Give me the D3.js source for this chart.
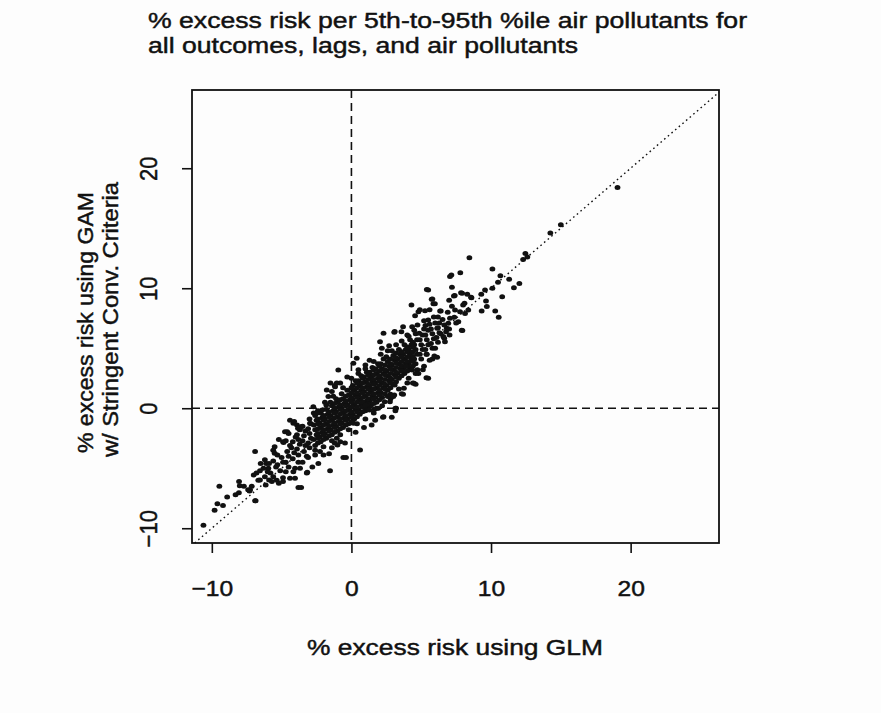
<!DOCTYPE html>
<html><head><meta charset="utf-8">
<script src="https://cdn.jsdelivr.net/npm/d3@7"></script>
<style>
body{margin:0;background:#fff}
svg{display:block}
text{font-family:"Liberation Sans",Arial,Helvetica,sans-serif;fill:#111;stroke:#111;stroke-width:0.45px}
</style>
</head><body>
<svg id="c" width="881" height="713"></svg>
<script>
// ---- DATA ([% excess risk GLM, % excess risk GAM stringent]) ----
const titleLines = ["% excess risk per 5th-to-95th %ile air pollutants for", "all outcomes, lags, and air pollutants"];
const xLabel = "% excess risk using GLM";
const yLabelLines = ["% excess risk using GAM", "w/ Stringent Conv. Criteria"];
const xTicks = [-10, 0, 10, 20];
const yTicks = [-10, 0, 10, 20];

const coreBand = [
[-4.7,-4.5],[-4.5,-4.0],[-4.6,-3.6],[-4.4,-3.1],[-4.7,-2.7],
[-4.2,-4.2],[-4.1,-3.7],[-4.3,-3.3],[-4.2,-2.8],[-4.0,-2.4],
[-3.8,-3.9],[-3.9,-3.4],[-3.7,-3.0],[-3.8,-2.6],[-3.9,-2.2],[-3.7,-1.8],
[-3.4,-3.6],[-3.3,-3.1],[-3.5,-2.7],[-3.4,-2.3],[-3.3,-1.9],[-3.5,-1.5],
[-3.0,-3.3],[-3.1,-2.9],[-2.9,-2.5],[-3.0,-2.1],[-3.1,-1.7],[-2.9,-1.3],
[-2.6,-3.1],[-2.7,-2.6],[-2.5,-2.2],[-2.6,-1.8],[-2.7,-1.4],[-2.5,-1.0],[-2.6,-0.6],
[-2.2,-2.8],[-2.3,-2.4],[-2.1,-2.0],[-2.2,-1.6],[-2.3,-1.2],[-2.1,-0.8],[-2.2,-0.4],
[-1.8,-2.5],[-1.9,-2.1],[-1.7,-1.7],[-1.8,-1.3],[-1.9,-0.9],[-1.7,-0.5],[-1.8,-0.1],
[-1.4,-2.2],[-1.5,-1.8],[-1.3,-1.4],[-1.4,-1.0],[-1.5,-0.6],[-1.3,-0.2],[-1.4,0.2],[-1.5,0.5],
[-1.0,-1.9],[-1.1,-1.5],[-0.9,-1.1],[-1.0,-0.7],[-1.1,-0.3],[-0.9,0.1],[-1.0,0.5],[-1.1,0.8],
[-0.6,-1.6],[-0.7,-1.2],[-0.5,-0.8],[-0.6,-0.4],[-0.7,0.0],[-0.5,0.4],[-0.6,0.8],[-0.7,1.2],
[-0.2,-1.3],[-0.3,-0.9],[-0.1,-0.5],[-0.2,-0.1],[-0.3,0.3],[-0.1,0.7],[-0.2,1.1],[-0.3,1.5],
[0.2,-0.9],[0.1,-0.5],[0.3,-0.1],[0.2,0.3],[0.1,0.7],[0.3,1.1],[0.2,1.5],[0.1,1.9],[0.3,2.3],
[0.6,-0.5],[0.5,-0.1],[0.7,0.3],[0.6,0.7],[0.5,1.1],[0.7,1.5],[0.6,1.9],[0.5,2.3],[0.7,2.7],
[1.0,-0.2],[0.9,0.2],[1.1,0.6],[1.0,1.0],[0.9,1.4],[1.1,1.8],[1.0,2.2],[0.9,2.6],[1.1,3.0],
[1.4,0.2],[1.3,0.6],[1.5,1.0],[1.4,1.4],[1.3,1.8],[1.5,2.2],[1.4,2.6],[1.3,3.0],[1.5,3.4],
[1.8,0.5],[1.7,0.9],[1.9,1.3],[1.8,1.7],[1.7,2.1],[1.9,2.5],[1.8,2.9],[1.7,3.3],[1.9,3.7],
[2.2,0.9],[2.1,1.3],[2.3,1.7],[2.2,2.1],[2.1,2.5],[2.3,2.9],[2.2,3.3],[2.1,3.7],[2.3,4.1],
[2.6,1.5],[2.5,1.9],[2.7,2.3],[2.6,2.7],[2.5,3.1],[2.7,3.5],[2.6,3.9],[2.5,4.3],
[3.0,2.0],[2.9,2.4],[3.1,2.8],[3.0,3.2],[2.9,3.6],[3.1,4.0],[3.0,4.4],[2.9,4.8],
[3.4,2.5],[3.3,2.9],[3.5,3.3],[3.4,3.7],[3.3,4.1],[3.5,4.5],[3.4,4.9],
[3.8,2.9],[3.7,3.3],[3.9,3.7],[3.8,4.1],[3.7,4.5],[3.9,4.9],[3.8,5.3],
[4.2,3.3],[4.1,3.7],[4.3,4.1],[4.2,4.5],[4.1,4.9],[4.3,5.3],[4.2,5.7],
[4.6,3.7],[4.5,4.1],[4.7,4.5],[4.6,4.9],[4.5,5.3],[4.7,5.7],
[5.0,4.1],[4.9,4.5],[5.1,4.9],[5.0,5.3],[4.9,5.7],[5.1,6.1],
[5.4,4.5],[5.3,4.9],[5.5,5.3],[5.4,5.7],[5.3,6.1],[5.5,6.5],
[5.8,5.0],[5.7,5.4],[5.9,5.8],[5.8,6.2],[5.7,6.6],
[6.2,5.5],[6.1,5.9],[6.3,6.3],[6.2,6.7]
];

const coreFill = [
[-2.4,-2.9],[-2.4,-2.5],[-2.4,-2.1],[-2.4,-1.7],[-2.4,-1.3],[-2.4,-0.9],
[-2.0,-2.6],[-2.0,-2.2],[-2.0,-1.8],[-2.0,-1.4],[-2.0,-1.0],[-2.0,-0.6],
[-1.6,-2.3],[-1.6,-1.9],[-1.6,-1.5],[-1.6,-1.1],[-1.6,-0.7],[-1.6,-0.3],
[-1.2,-2.0],[-1.2,-1.6],[-1.2,-1.2],[-1.2,-0.8],[-1.2,-0.4],[-1.2,0.0],[-1.2,0.4],
[-0.8,-1.7],[-0.8,-1.3],[-0.8,-0.9],[-0.8,-0.5],[-0.8,-0.1],[-0.8,0.3],[-0.8,0.7],
[-0.4,-1.4],[-0.4,-1.0],[-0.4,-0.6],[-0.4,-0.2],[-0.4,0.2],[-0.4,0.6],[-0.4,1.0],
[0.0,-1.1],[0.0,-0.7],[0.0,-0.3],[0.0,0.1],[0.0,0.5],[0.0,0.9],[0.0,1.3],[0.0,1.7],
[0.4,-0.7],[0.4,-0.3],[0.4,0.1],[0.4,0.5],[0.4,0.9],[0.4,1.3],[0.4,1.7],[0.4,2.1],
[0.8,-0.3],[0.8,0.1],[0.8,0.5],[0.8,0.9],[0.8,1.3],[0.8,1.7],[0.8,2.1],[0.8,2.5],
[1.2,0.0],[1.2,0.4],[1.2,0.8],[1.2,1.2],[1.2,1.6],[1.2,2.0],[1.2,2.4],[1.2,2.8],
[1.6,0.4],[1.6,0.8],[1.6,1.2],[1.6,1.6],[1.6,2.0],[1.6,2.4],[1.6,2.8],[1.6,3.2],
[2.0,0.7],[2.0,1.1],[2.0,1.5],[2.0,1.9],[2.0,2.3],[2.0,2.7],[2.0,3.1],[2.0,3.5],
[2.4,1.2],[2.4,1.6],[2.4,2.0],[2.4,2.4],[2.4,2.8],[2.4,3.2],[2.4,3.6],
[2.8,1.7],[2.8,2.1],[2.8,2.5],[2.8,2.9],[2.8,3.3],[2.8,3.7],[2.8,4.1],
[3.2,2.2],[3.2,2.6],[3.2,3.0],[3.2,3.4],[3.2,3.8],[3.2,4.2],[3.2,4.6],
[3.6,2.7],[3.6,3.1],[3.6,3.5],[3.6,3.9],[3.6,4.3],[3.6,4.7],
[4.0,3.1],[4.0,3.5],[4.0,3.9],[4.0,4.3],[4.0,4.7],[4.0,5.1],
[4.4,3.5],[4.4,3.9],[4.4,4.3],[4.4,4.7],[4.4,5.1],[4.4,5.5]
];

const bandEdge = [
[-3.0,-0.9],[-2.4,-0.2],[-1.9,0.5],[-1.3,1.0],[-0.6,1.7],[0.0,2.5],[0.5,2.9],[1.0,3.3],
[1.6,3.9],[2.1,4.5],[2.6,4.8],[3.2,5.3],[3.6,5.6],[4.1,6.0],[4.6,6.2],[5.2,6.6],[5.6,7.0],[6.3,7.1],
[-3.8,-4.5],[-3.2,-4.0],[-2.6,-3.5],[-2.0,-3.2],[-1.4,-2.7],[-0.8,-2.2],[-0.2,-1.8],[0.4,-1.3],
[1.0,-0.9],[1.6,-0.4],[2.2,0.2],[2.8,0.8],[3.4,1.6],[4.0,2.1],[4.6,2.9],[5.2,3.5],[5.8,4.1]
];

const fringe = [
[-6.9,-3.6],[-5.6,-3.5],[-5.5,-3.75],[-6.2,-4.3],[-6.1,-4.6],[-5.95,-5.0],[-4.9,-2.8],[-4.6,-1.95],
[-4.16,-1.25],[-3.56,-1.53],[-4.1,-1.1],[-4.4,-1.0],[-3.9,-1.4],[-3.7,-1.75],[-4.76,-1.95],[-4.5,-2.1],
[-5.2,-2.6],[-5.5,-3.2],[-4.86,-2.86],[-3.83,-1.67],[-2.97,-1.25],[-2.7,-0.4],[-2.3,-0.28],[-2.73,0.13],
[-2.1,-0.14],[-2.5,-0.42],[-1.8,0.28],[-1.77,1.53],[-1.65,0.97],[-1.17,1.8],[-0.8,2.1],[-1.5,2.1],
[-1.2,1.9],[-1.05,2.1],[-1.4,1.4],[-0.94,3.19],[0.38,4.17],[0.14,3.75],[-0.3,2.6],[0.5,3.2],
[1.0,3.6],[1.3,4.0],[2.05,5.55],[2.3,6.25],[2.18,5.0],[3.1,6.4],[3.7,6.8],[3.07,6.33],
[2.7,5.2],[3.58,6.38],[4.35,6.8],[4.73,6.94],[4.86,6.25],[4.3,8.6],[4.8,8.05],[5.6,8.2],
[5.5,9.86],[5.75,9.08],[5.87,8.7],[4.9,8.2],[5.27,8.13],[4.56,7.7],[5.5,7.36],[5.2,7.3],
[4.0,6.1],[4.5,6.5],[5.9,7.6],[6.35,8.1],[6.0,7.1],[5.3,6.9],
[-6.9,-7.7],[-6.55,-5.97],[-5.8,-5.4],[-5.6,-5.7],[-5.35,-6.0],[-5.2,-6.25],[-4.9,-5.8],[-4.9,-6.1],
[-6.14,-6.4],[-4.16,-5.3],[-4.04,-5.0],[-3.68,-5.0],[-4.04,-5.83],[-4.4,-5.83],[-3.8,-6.6],[-3.6,-6.6],
[-3.2,-5.4],[-3.16,-5.33],[-2.37,-4.6],[-2.8,-4.9],[-1.53,-5.2],[-0.58,-4.1],[-0.39,-4.1],[-2.25,-3.6],
[-1.4,-3.3],[-0.8,-2.8],[-1.05,-2.5],[-0.46,-2.9],[-1.0,-3.06],[0.62,-3.47],[1.45,-1.4],[0.14,-1.25],
[2.26,-0.75],[2.89,-0.75],[1.92,0.0],[1.66,-0.08],[1.02,0.28],[3.15,0.0],[3.15,-0.2],[2.38,0.55],
[2.76,0.55],[2.8,1.16],[3.07,1.1],[3.6,1.2],[2.9,1.0],[3.1,1.94],[3.7,1.16],[3.76,1.67],
[4.48,2.08],[4.6,2.0],[4.4,2.1],[5.37,2.55],[5.5,2.5],[4.1,2.5],[4.73,3.2],[5.12,3.2],
[4.8,2.9],[3.9,3.47],[4.35,3.19],[5.6,4.0],[5.94,4.36],[6.14,4.25],[5.37,4.5],[2.3,-0.7],
[1.8,0.0],[1.3,-0.14],[2.6,0.97],[3.0,0.97],[3.2,0.0],[-3.1,-4.1],[-2.0,-3.9],[-1.6,-3.8],
[0.3,-2.0],[0.9,-1.6],[1.7,-1.0],[-4.5,-4.9],[-5.4,-4.9],[-3.5,-4.5],[-2.6,-3.9],[-1.2,-2.9]
];

const lowerTail = [
[-10.6,-9.75],[-9.8,-8.5],[-9.6,-7.95],[-9.2,-8.1],[-9.46,-6.5],[-8.9,-7.4],[-8.3,-7.2],[-8.06,-7.05],
[-8.05,-6.1],[-8.0,-6.45],[-7.4,-6.8],[-7.14,-6.5],[-6.86,-7.7],[-7.3,-6.9],[-7.0,-5.56],[-6.8,-5.4],
[-6.67,-6.0],[-6.2,-5.7],[-5.9,-5.97],[-5.7,-6.1],[-7.7,-6.5],[-7.26,-6.8],[-6.55,-5.2],[-6.3,-5.0],
[-6.5,-4.6],[-5.9,-4.6],[-6.0,-5.3],[-5.6,-4.4],[-5.3,-4.7],[-5.0,-4.1],[-5.3,-3.9],[-5.1,-5.2],
[-4.9,-4.5],[-4.7,-5.3]
];

const upperTail = [
[6.65,5.83],[7.03,6.1],[6.78,6.38],[6.53,7.4],[6.65,6.94],[6.14,6.67],[6.58,5.97],[6.83,6.67],
[6.94,7.08],[7.06,7.5],[7.95,6.47],[7.66,7.2],[7.37,7.58],[8.37,8.19],[8.14,7.9],[7.78,8.05],
[7.42,8.19],[7.2,8.5],[6.4,8.1],[5.98,8.7],[5.8,9.1],[5.4,9.9],[7.2,10.08],[7.85,9.63],
[8.3,9.5],[8.6,9.2],[7.34,9.36],[7.93,9.58],[8.57,9.25],[7.16,11.1],[7.06,10.97],[7.8,11.3],
[8.45,12.55],[10.1,11.6],[10.67,11.05],[11.3,10.75],[12.03,10.4],[11.64,10.05],[10.5,10.5],[10.1,10.0],
[9.57,9.86],[9.3,9.5],[10.8,9.3],[9.64,8.94],[9.7,8.47],[9.33,8.1],[10.3,8.1],[10.55,7.58],
[12.3,12.4],[12.46,12.9],[12.6,12.6],[14.25,14.6],[15.0,15.3],[19.06,18.4],[6.7,5.55],[7.9,6.5],
[7.5,7.1],[8.1,8.75],[7.4,9.4],[8.0,8.6],[7.0,9.0],[6.2,7.6],[6.9,8.0],[6.0,5.0],[6.4,6.2],[7.0,6.6]
];

// ---- DRAWING ----
const svg = d3.select("#c");
svg.append("rect").attr("width",881).attr("height",713).attr("fill","#fdfdfd");

const x = d3.scaleLinear().domain([-11.42, 26.33]).range([192, 719]);
const y = d3.scaleLinear().domain([-11.23, 26.52]).range([543, 90]);
const ink = "#111";

// title
titleLines.forEach((t,i)=>{
  svg.append("text").attr("x",148).attr("y",28+i*25)
    .attr("font-size",22).attr("textLength", i===0?599:430)
    .attr("lengthAdjust","spacingAndGlyphs").text(t);
});

// axes
const xAxis = svg.append("g").attr("transform","translate(0,543)")
  .call(d3.axisBottom(x).tickValues(xTicks).tickSize(10).tickPadding(27).tickFormat(d3.format("d")));
const yAxis = svg.append("g").attr("transform","translate(192,0)")
  .call(d3.axisLeft(y).tickValues(yTicks).tickSize(10).tickFormat(d3.format("d")));
[xAxis,yAxis].forEach(g=>{
  g.select(".domain").remove();
  g.selectAll("line").attr("stroke",ink).attr("stroke-width",1.6);
  g.selectAll("text").attr("font-size",22).attr("font-family",'"Liberation Sans",Arial,sans-serif')
    .attr("fill",ink).attr("stroke",ink).attr("stroke-width",0.45);
});
xAxis.selectAll(".tick text").attr("transform","scale(1.12,1)");
yAxis.selectAll("text").attr("x",null).attr("dy",null).attr("text-anchor","middle")
  .attr("transform","translate(-35,0) scale(1.12,1) rotate(-90)");

// zero reference lines
svg.append("line").attr("x1",x(0)).attr("x2",x(0)).attr("y1",90).attr("y2",543)
  .attr("stroke",ink).attr("stroke-width",1.6).attr("stroke-dasharray","8,5");
svg.append("line").attr("x1",192).attr("x2",719).attr("y1",y(0)).attr("y2",y(0))
  .attr("stroke",ink).attr("stroke-width",1.6).attr("stroke-dasharray","8,5");

// identity line
const lo = Math.max(x.domain()[0], y.domain()[0]), hi = Math.min(x.domain()[1], y.domain()[1]);
svg.append("line").attr("x1",x(lo)).attr("y1",y(lo)).attr("x2",x(hi)).attr("y2",y(hi))
  .attr("stroke",ink).attr("stroke-width",1.4).attr("stroke-dasharray","1.6,3.2");

// points
const allPts = [].concat(coreBand, coreFill, bandEdge, fringe, lowerTail, upperTail);
svg.append("g").selectAll("ellipse").data(allPts).join("ellipse")
  .attr("cx",d=>x(d[0])).attr("cy",d=>y(d[1])).attr("rx",2.9).attr("ry",2.5).attr("fill",ink);

// box
svg.append("rect").attr("x",192).attr("y",90).attr("width",527).attr("height",453)
  .attr("fill","none").attr("stroke",ink).attr("stroke-width",1.8);

// axis titles
svg.append("text").attr("x",307).attr("y",655).attr("font-size",22)
  .attr("textLength",296).attr("lengthAdjust","spacingAndGlyphs").text(xLabel);
yLabelLines.forEach((t,i)=>{
  svg.append("text").attr("transform",`translate(${i===0?93:118},${i===0?453:457}) rotate(-90)`)
    .attr("font-size",22).attr("textLength", i===0?261:275)
    .attr("lengthAdjust","spacingAndGlyphs").text(t);
});
</script>
</body></html>
